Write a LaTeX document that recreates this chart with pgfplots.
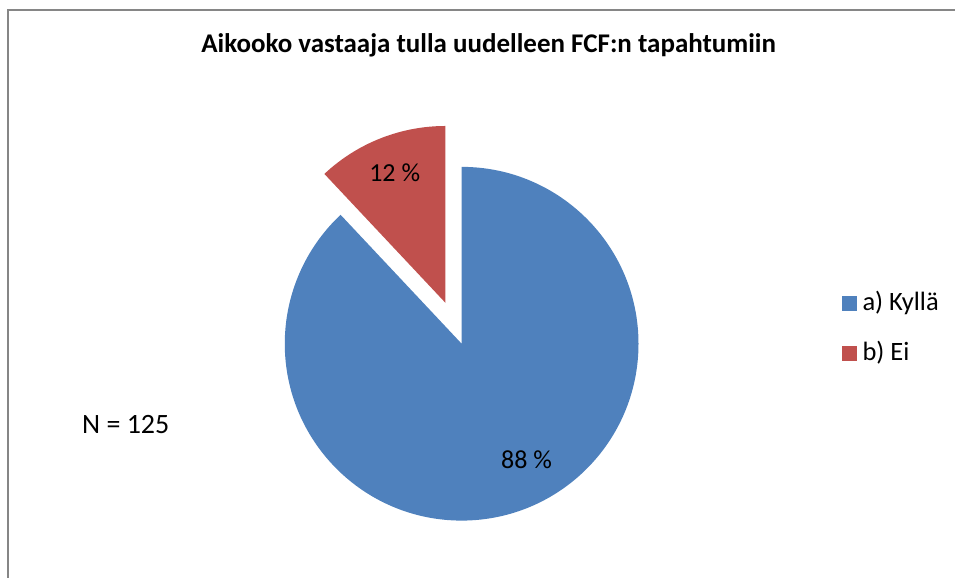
\documentclass[border=0pt]{standalone}
\usepackage{pgfplots}
\pgfplotsset{compat=1.18}
\usepackage{pgfplotstable}
\usepackage{fontspec}
\setmainfont{Carlito}

\definecolor{pieblue}{HTML}{4F81BD}
\definecolor{piered}{HTML}{C0504D}
\definecolor{frame}{HTML}{868686}

% shares in percent (N = 125)
\pgfplotstableread{
share
88
12
}\piedata

\begin{document}
\begin{tikzpicture}
\pgfplotstablegetelem{0}{share}\of\piedata \let\shareA\pgfplotsretval
\pgfplotstablegetelem{1}{share}\of\piedata \let\shareB\pgfplotsretval
% red slice runs counter-clockwise from 12 o'clock, blue takes the rest
\pgfmathsetmacro\angB{90+3.6*\shareB}
\pgfmathsetmacro\midB{90+1.8*\shareB}
\begin{axis}[
  scale only axis, width=956bp, height=578bp,
  xmin=0, xmax=956, ymin=0, ymax=578,
  hide axis, clip=false,
]
  % keep the whole canvas in the bounding box
  \path (axis cs:0,0) rectangle (axis cs:956,578);
  % chart frame
  \draw[frame, line width=1.5bp] (axis cs:8,0) -- (axis cs:8,568) -- (axis cs:956,568);

  % slices
  \fill[pieblue] (axis cs:462,234) -- ++(90:177bp)
     arc[start angle=90, end angle=\angB-360, radius=177bp] -- cycle;
  \fill[piered] (axis cs:462,234) ++(\midB:44bp) -- ++(90:177bp)
     arc[start angle=90, end angle=\angB, radius=177bp] -- cycle;

  % data labels
  \node[anchor=base, inner sep=0pt, font=\fontsize{26bp}{30bp}\selectfont] at (axis cs:395,396) {\shareB~\%};
  \node[anchor=base, inner sep=0pt, font=\fontsize{26bp}{30bp}\selectfont] at (axis cs:527,109) {\shareA~\%};

  % title
  \node[anchor=base, inner sep=0pt, font=\bfseries\fontsize{27bp}{31bp}\selectfont] at (axis cs:489,525)
     {Aikooko vastaaja tulla uudelleen FCF:n tapahtumiin};

  % N
  \node[anchor=west, inner sep=0pt, font=\fontsize{28bp}{32bp}\selectfont] at (axis cs:82,153) {N = 125};

  % legend
  \fill[pieblue] (axis cs:843,267) rectangle (axis cs:858,282);
  \fill[piered] (axis cs:843,217) rectangle (axis cs:858,232);
  \node[anchor=base west, inner sep=0pt, font=\fontsize{26.5bp}{30bp}\selectfont] at (axis cs:863,267) {a) Kyllä};
  \node[anchor=base west, inner sep=0pt, font=\fontsize{26.5bp}{30bp}\selectfont] at (axis cs:863,217) {b) Ei};
\end{axis}
\end{tikzpicture}
\end{document}
